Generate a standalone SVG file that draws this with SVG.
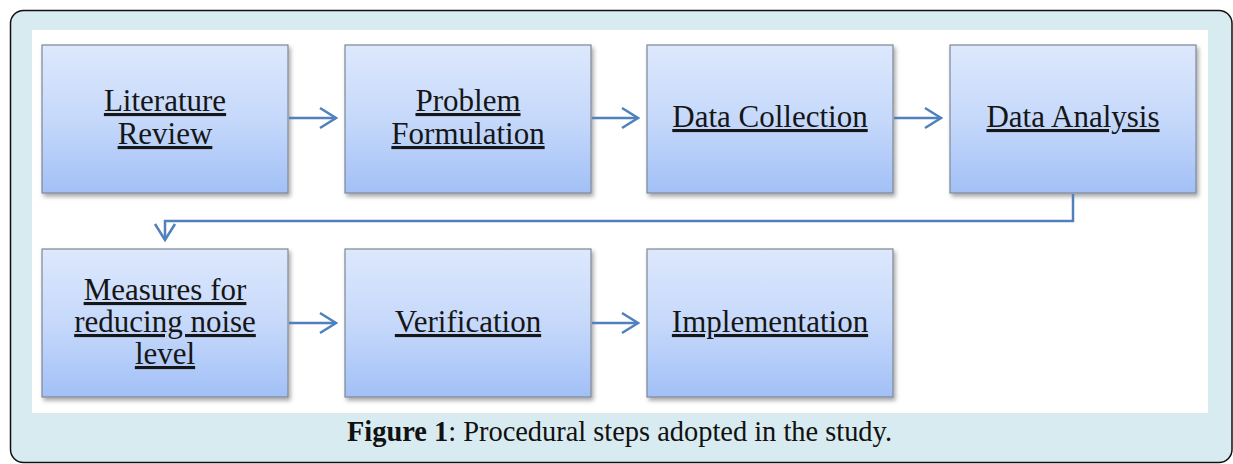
<svg xmlns="http://www.w3.org/2000/svg" width="1233" height="464" viewBox="0 0 1233 464">
<defs>
<linearGradient id="g" x1="0" y1="0" x2="0" y2="1">
<stop offset="0" stop-color="#dde8fc"/>
<stop offset="0.5" stop-color="#c6d9fb"/>
<stop offset="1" stop-color="#a2c0f6"/>
</linearGradient>
<filter id="sh" x="-10%" y="-10%" width="125%" height="130%">
<feDropShadow dx="2" dy="3" stdDeviation="2" flood-color="#000" flood-opacity="0.35"/>
</filter>
<marker id="ah" viewBox="0 0 20 24" refX="18" refY="12" markerWidth="20" markerHeight="24" markerUnits="userSpaceOnUse" orient="auto">
<path d="M2,2 L18,12 L2,22" fill="none" stroke="#4f81bd" stroke-width="2.5"/>
</marker>
<style>
.box{fill:url(#g);stroke:#7d8796;stroke-width:1.2;filter:url(#sh)}
.t{font-family:"Liberation Serif","Times New Roman",serif;font-size:31px;fill:#161616;text-anchor:middle;text-decoration:underline}
.c{fill:none;stroke:#4f81bd;stroke-width:2.5}
.cap{font-family:"Liberation Serif","Times New Roman",serif;font-size:29px;fill:#111}
</style>
</defs>
<rect x="10.5" y="10.5" width="1221.5" height="452" rx="13" fill="#d8ebf0" stroke="#111" stroke-width="1.5"/>
<rect x="32" y="30" width="1176" height="383" fill="#fff"/>
<g id="n1"><rect class="box" x="42" y="45" width="246" height="148"/><text class="t" x="165" y="111">Literature</text><text class="t" x="165" y="144">Review</text></g>
<g id="n2"><rect class="box" x="345" y="45" width="246" height="148"/><text class="t" x="468" y="111">Problem</text><text class="t" x="468" y="144">Formulation</text></g>
<g id="n3"><rect class="box" x="647" y="45" width="246" height="148"/><text class="t" x="770" y="127">Data Collection</text></g>
<g id="n4"><rect class="box" x="950" y="45" width="246" height="148"/><text class="t" x="1073" y="127">Data Analysis</text></g>
<g id="n5"><rect class="box" x="42" y="249" width="246" height="148"/><text class="t" x="165" y="300">Measures for</text><text class="t" x="165" y="332">reducing noise</text><text class="t" x="165" y="364">level</text></g>
<g id="n6"><rect class="box" x="345" y="249" width="246" height="148"/><text class="t" x="468" y="332">Verification</text></g>
<g id="n7"><rect class="box" x="647" y="249" width="246" height="148"/><text class="t" x="770" y="332">Implementation</text></g>
<g id="connectors">
<line class="c" x1="289" y1="118" x2="336" y2="118" marker-end="url(#ah)"/>
<line class="c" x1="592" y1="118" x2="638" y2="118" marker-end="url(#ah)"/>
<line class="c" x1="894" y1="118" x2="941" y2="118" marker-end="url(#ah)"/>
<polyline class="c" points="1073,194 1073,221 165,221 165,240" marker-end="url(#ah)"/>
<line class="c" x1="289" y1="323" x2="336" y2="323" marker-end="url(#ah)"/>
<line class="c" x1="592" y1="323" x2="638" y2="323" marker-end="url(#ah)"/>
</g>
<text class="cap" x="347" y="441" textLength="545" lengthAdjust="spacingAndGlyphs"><tspan font-weight="bold">Figure 1</tspan>: Procedural steps adopted in the study.</text>
</svg>
